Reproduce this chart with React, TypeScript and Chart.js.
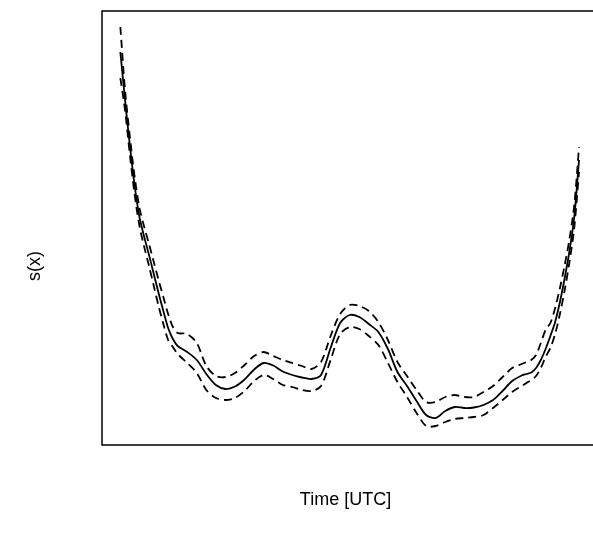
import React, { useEffect, useRef } from "react";
import { Chart, registerables } from "chart.js";

Chart.register(...registerables);

// Time of day (hours UTC)
const hours = [
  0, 0.25, 0.5, 0.75, 1, 1.25, 1.5, 1.75, 2, 2.25, 2.5, 2.75, 3, 3.5, 4, 4.5, 5, 5.5, 6, 6.5, 7, 7.5, 8, 8.5,
  9, 9.5, 10, 10.5, 11, 11.5, 12, 12.5, 13, 13.5, 14, 14.5, 15, 15.5, 16, 16.5, 17, 17.5, 18, 18.5, 19, 19.5,
  20, 20.5, 21, 21.25, 21.5, 21.75, 22, 22.25, 22.5, 22.75, 23, 23.25, 23.5, 23.75, 24,
];

// Smooth estimate s(x)
const smooth = [
  1.93, 1.44, 0.99, 0.59, 0.28, 0.08, -0.1, -0.29, -0.48, -0.66, -0.83, -0.94, -1.01, -1.07, -1.15, -1.29, -1.4,
  -1.44, -1.415, -1.345, -1.245, -1.18, -1.205, -1.265, -1.3, -1.325, -1.34, -1.3, -1.03, -0.78, -0.7, -0.72,
  -0.79, -0.87, -1.04, -1.27, -1.41, -1.56, -1.7, -1.73, -1.66, -1.62, -1.63, -1.625, -1.6, -1.55, -1.46, -1.36,
  -1.305, -1.29, -1.275, -1.23, -1.15, -1.04, -0.91, -0.77, -0.57, -0.33, -0.06, 0.28, 0.85,
];

// Upper confidence band
const upper = [
  2.18, 1.54, 1.08, 0.68, 0.37, 0.18, 0.01, -0.17, -0.35, -0.52, -0.69, -0.82, -0.88, -0.89, -0.98, -1.21, -1.31,
  -1.32, -1.28, -1.2, -1.11, -1.07, -1.11, -1.15, -1.18, -1.21, -1.24, -1.17, -0.91, -0.69, -0.6, -0.61, -0.66,
  -0.77, -0.95, -1.17, -1.31, -1.45, -1.57, -1.57, -1.52, -1.5, -1.52, -1.52, -1.47, -1.41, -1.32, -1.23, -1.19,
  -1.17, -1.15, -1.1, -0.98, -0.85, -0.78, -0.63, -0.43, -0.2, 0.06, 0.4, 0.98,
];

// Lower confidence band
const lower = [
  1.67, 1.34, 0.9, 0.5, 0.19, -0.02, -0.21, -0.41, -0.61, -0.79, -0.95, -1.02, -1.09, -1.18, -1.28, -1.45, -1.53,
  -1.55, -1.53, -1.46, -1.36, -1.3, -1.34, -1.4, -1.42, -1.45, -1.46, -1.41, -1.15, -0.89, -0.82, -0.84, -0.91,
  -1.0, -1.18, -1.37, -1.52, -1.68, -1.81, -1.81, -1.77, -1.74, -1.73, -1.72, -1.7, -1.63, -1.55, -1.47, -1.41,
  -1.38, -1.35, -1.31, -1.23, -1.12, -1.03, -0.89, -0.69, -0.45, -0.17, 0.17, 0.73,
];

const xLabel = "Time [UTC]";
const yLabel = "s(x)";

const toPoints = (ys: number[]) => hours.map((h, i) => ({ x: h, y: ys[i] }));

const frameAndLabels = {
  id: "frameAndLabels",
  afterDraw(chart: any) {
    const { ctx, chartArea } = chart;
    ctx.save();
    ctx.strokeStyle = "#000";
    ctx.lineWidth = 1.5;
    ctx.strokeRect(chartArea.left, chartArea.top, chartArea.right - chartArea.left, chartArea.bottom - chartArea.top);
    ctx.fillStyle = "#000";
    ctx.font = '18px "Liberation Sans", Arial, sans-serif';
    ctx.textAlign = "center";
    ctx.textBaseline = "middle";
    ctx.fillText(xLabel, (chartArea.left + chartArea.right) / 2 - 4, 500);
    ctx.translate(35, 266);
    ctx.rotate(-Math.PI / 2);
    ctx.fillText(yLabel, 0, 0);
    ctx.restore();
  },
};

export default function App() {
  const ref = useRef<HTMLCanvasElement>(null);
  useEffect(() => {
    if (!ref.current) return;
    const common = { pointRadius: 0, borderColor: "#000", borderWidth: 1.8, tension: 0.3, fill: false };
    const chart = new Chart(ref.current, {
      type: "line",
      data: {
        datasets: [
          { label: "s(x)", data: toPoints(smooth), ...common },
          { label: "upper", data: toPoints(upper), ...common, borderDash: [8, 5] },
          { label: "lower", data: toPoints(lower), ...common, borderDash: [8, 5] },
        ],
      },
      options: {
        responsive: false,
        animation: false,
        devicePixelRatio: 1,
        layout: { padding: { left: 102, top: 11, right: 3, bottom: 99 } },
        plugins: { legend: { display: false }, tooltip: { enabled: false } },
        scales: {
          x: { type: "linear", min: -0.96, max: 24.94, display: false },
          y: { type: "linear", min: -2.0, max: 2.34, display: false },
        },
      },
      plugins: [frameAndLabels],
    });
    return () => chart.destroy();
  }, []);
  return (
    <div style={{ position: "fixed", left: 0, top: 0, width: 600, height: 544, background: "#fff" }}>
      <canvas ref={ref} width={600} height={544} style={{ display: "block" }} />
    </div>
  );
}
